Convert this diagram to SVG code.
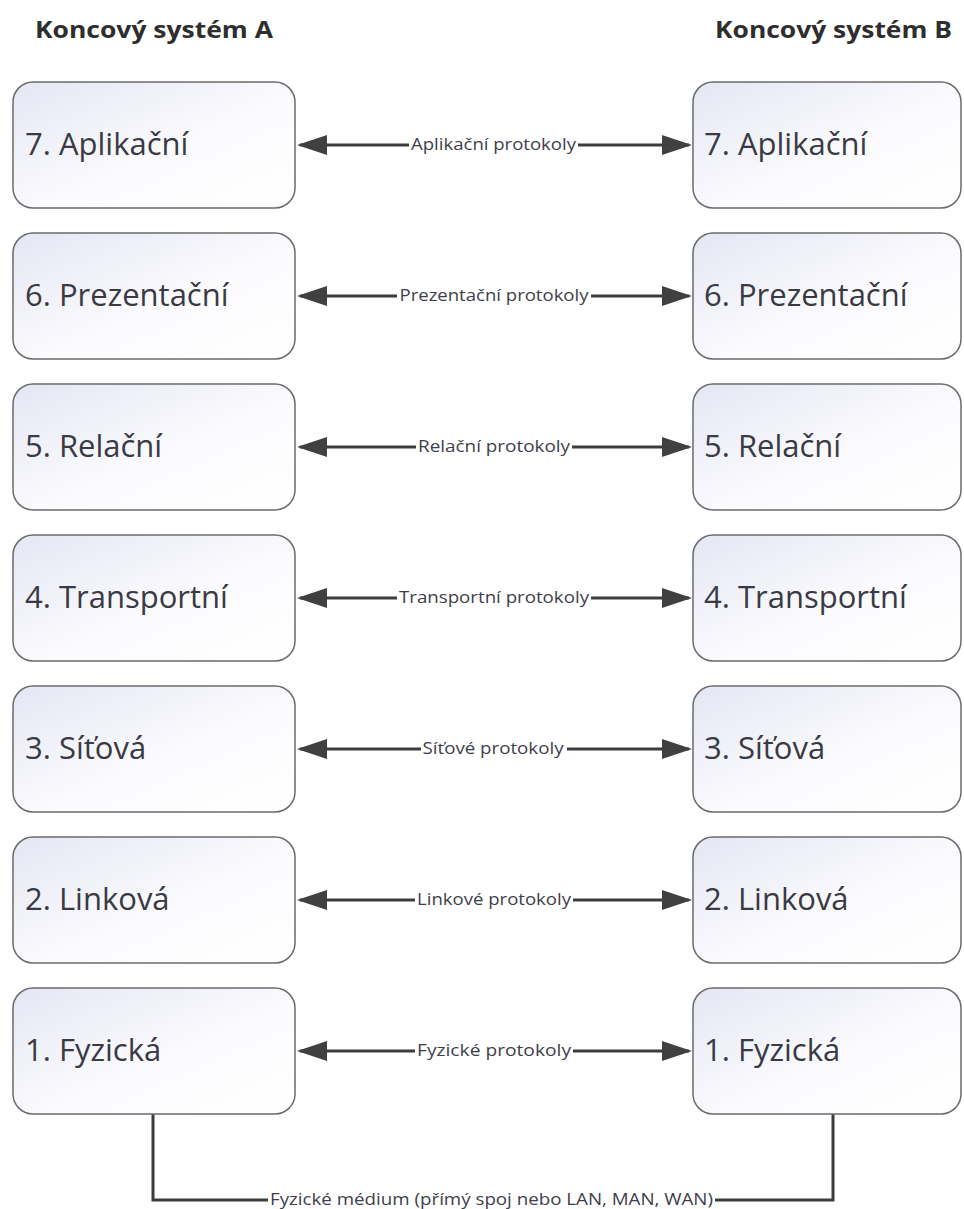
<svg xmlns="http://www.w3.org/2000/svg" width="964" height="1209" viewBox="0 0 964 1209">
<style>
.hdr{font-family:"Open Sans","Noto Sans",sans-serif;font-weight:bold;font-size:23px;fill:#2e2e2e}
.box{fill:url(#g);stroke:#6b6b6b;stroke-width:1.5}
.bt{font-family:"Open Sans","Noto Sans",sans-serif;font-size:31px;fill:#3a3a44}
.lbl{font-family:"Open Sans","Noto Sans",sans-serif;font-size:16px;fill:#3e3e4a;text-anchor:middle}
.bg{fill:#ffffff}
.ln{stroke:#3d3d3d;stroke-width:3;fill:none}
</style>
<defs>
<linearGradient id="g" x1="0" y1="0" x2="1" y2="1">
<stop offset="0" stop-color="#e4e6f3"/>
<stop offset="0.55" stop-color="#fbfbfe"/>
<stop offset="1" stop-color="#ffffff"/>
</linearGradient>
<marker id="ah" viewBox="0 0 30 20" markerWidth="30" markerHeight="20" refX="27" refY="10" orient="auto-start-reverse" markerUnits="userSpaceOnUse">
<path d="M0,0 L30,10 L0,20 z" fill="#404040"/>
</marker>
</defs>
<rect width="964" height="1209" fill="#ffffff"/>
<g id="headers">
<text class="hdr" x="35" y="38" textLength="238" lengthAdjust="spacingAndGlyphs">Koncový systém A</text>
<text class="hdr" x="715" y="38" textLength="237" lengthAdjust="spacingAndGlyphs">Koncový systém B</text>
</g>
<g id="connectors">
<line class="ln" x1="300" y1="145" x2="689" y2="145" marker-start="url(#ah)" marker-end="url(#ah)"/>
<line class="ln" x1="300" y1="296" x2="689" y2="296" marker-start="url(#ah)" marker-end="url(#ah)"/>
<line class="ln" x1="300" y1="447" x2="689" y2="447" marker-start="url(#ah)" marker-end="url(#ah)"/>
<line class="ln" x1="300" y1="598" x2="689" y2="598" marker-start="url(#ah)" marker-end="url(#ah)"/>
<line class="ln" x1="300" y1="749" x2="689" y2="749" marker-start="url(#ah)" marker-end="url(#ah)"/>
<line class="ln" x1="300" y1="900" x2="689" y2="900" marker-start="url(#ah)" marker-end="url(#ah)"/>
<line class="ln" x1="300" y1="1051" x2="689" y2="1051" marker-start="url(#ah)" marker-end="url(#ah)"/>
<path class="ln" d="M153,1114 V1200 H833 V1114"/>
<rect class="bg" x="409" y="136" width="169" height="18"/>
<text class="lbl" x="493.5" y="149.5" textLength="165" lengthAdjust="spacingAndGlyphs">Aplikační protokoly</text>
<rect class="bg" x="397" y="287" width="194" height="18"/>
<text class="lbl" x="494" y="300.5" textLength="189" lengthAdjust="spacingAndGlyphs">Prezentační protokoly</text>
<rect class="bg" x="416" y="438" width="156" height="18"/>
<text class="lbl" x="494" y="451.5" textLength="152" lengthAdjust="spacingAndGlyphs">Relační protokoly</text>
<rect class="bg" x="397" y="589" width="194" height="18"/>
<text class="lbl" x="494" y="602.5" textLength="190" lengthAdjust="spacingAndGlyphs">Transportní protokoly</text>
<rect class="bg" x="421" y="740" width="146" height="18"/>
<text class="lbl" x="493" y="753.5" textLength="141" lengthAdjust="spacingAndGlyphs">Síťové protokoly</text>
<rect class="bg" x="415" y="891" width="158" height="18"/>
<text class="lbl" x="494" y="904.5" textLength="154" lengthAdjust="spacingAndGlyphs">Linkové protokoly</text>
<rect class="bg" x="415" y="1042" width="158" height="18"/>
<text class="lbl" x="494" y="1055.5" textLength="154" lengthAdjust="spacingAndGlyphs">Fyzické protokoly</text>
<rect class="bg" x="268" y="1191" width="447" height="18"/>
<text class="lbl" x="491.5" y="1205" textLength="443" lengthAdjust="spacingAndGlyphs">Fyzické médium (přímý spoj nebo LAN, MAN, WAN)</text>
</g>
<g id="a7"><rect class="box" x="13" y="82" width="282" height="126" rx="20"/><text class="bt" x="25" y="155">7. Aplikační</text></g>
<g id="a6"><rect class="box" x="13" y="233" width="282" height="126" rx="20"/><text class="bt" x="25" y="306">6. Prezentační</text></g>
<g id="a5"><rect class="box" x="13" y="384" width="282" height="126" rx="20"/><text class="bt" x="25" y="457">5. Relační</text></g>
<g id="a4"><rect class="box" x="13" y="535" width="282" height="126" rx="20"/><text class="bt" x="25" y="608">4. Transportní</text></g>
<g id="a3"><rect class="box" x="13" y="686" width="282" height="126" rx="20"/><text class="bt" x="25" y="759">3. Síťová</text></g>
<g id="a2"><rect class="box" x="13" y="837" width="282" height="126" rx="20"/><text class="bt" x="25" y="910">2. Linková</text></g>
<g id="a1"><rect class="box" x="13" y="988" width="282" height="126" rx="20"/><text class="bt" x="25" y="1061">1. Fyzická</text></g>
<g id="b7"><rect class="box" x="693" y="82" width="268" height="126" rx="20"/><text class="bt" x="704" y="155">7. Aplikační</text></g>
<g id="b6"><rect class="box" x="693" y="233" width="268" height="126" rx="20"/><text class="bt" x="704" y="306">6. Prezentační</text></g>
<g id="b5"><rect class="box" x="693" y="384" width="268" height="126" rx="20"/><text class="bt" x="704" y="457">5. Relační</text></g>
<g id="b4"><rect class="box" x="693" y="535" width="268" height="126" rx="20"/><text class="bt" x="704" y="608">4. Transportní</text></g>
<g id="b3"><rect class="box" x="693" y="686" width="268" height="126" rx="20"/><text class="bt" x="704" y="759">3. Síťová</text></g>
<g id="b2"><rect class="box" x="693" y="837" width="268" height="126" rx="20"/><text class="bt" x="704" y="910">2. Linková</text></g>
<g id="b1"><rect class="box" x="693" y="988" width="268" height="126" rx="20"/><text class="bt" x="704" y="1061">1. Fyzická</text></g>
</svg>
